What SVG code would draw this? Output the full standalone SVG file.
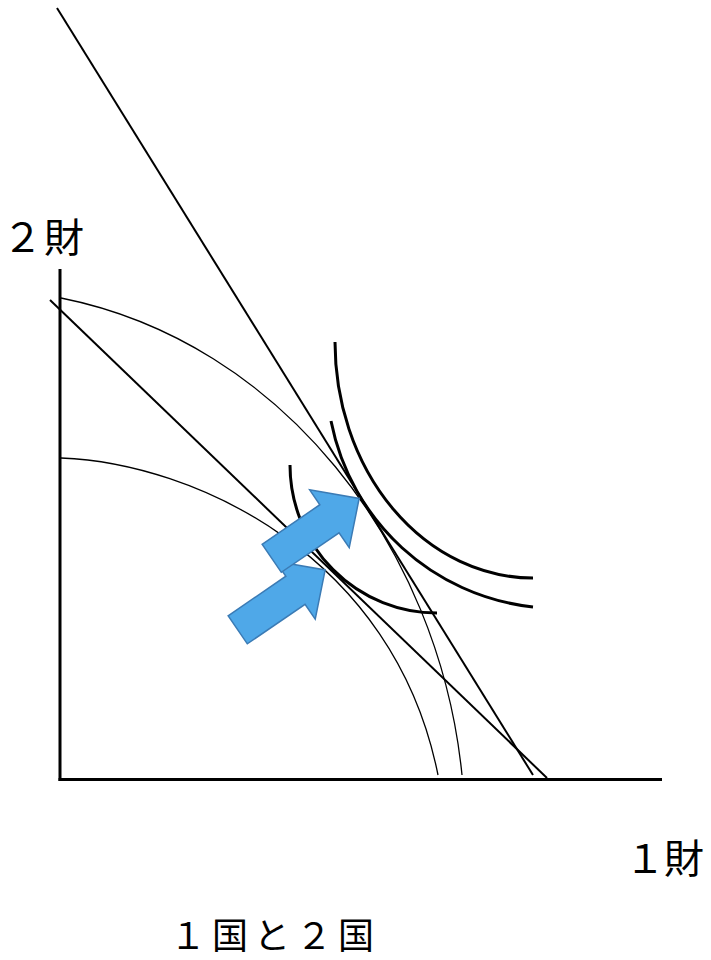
<svg xmlns="http://www.w3.org/2000/svg" width="711" height="960" viewBox="0 0 711 960">
<defs>
<style>
.axis{stroke:#000;stroke-width:3;fill:none}
.line{stroke:#000;stroke-width:2;fill:none}
.ppf{stroke:#000;stroke-width:1.3;fill:none}
.ic{stroke:#000;stroke-width:3;fill:none}
.arrow{fill:#4FA8E8;stroke:#3B7BB5;stroke-width:1.5;stroke-linejoin:miter}
.lbl{font-family:"Noto Sans CJK JP","Noto Sans",sans-serif;fill:#000}
</style>
<polygon id="blk" points="0,-17 70,-17 70,-35 106,0 70,35 70,17 0,17"/>
</defs>
<rect width="711" height="960" fill="#fff"/>
<g id="axes">
<line class="axis" x1="60" y1="269" x2="60" y2="781"/>
<line class="axis" x1="58.5" y1="779.5" x2="662" y2="779.5"/>
</g>
<g id="connectors">
<line class="line" x1="57" y1="8" x2="533" y2="775"/>
<line class="line" x1="50" y1="300" x2="547" y2="778"/>
</g>
<g id="ppf-outer"><path class="ppf" d="M61,298 C281,342 439,545 462,775"/></g>
<g id="ppf-inner"><path class="ppf" d="M61,458 C194,463 394,555 438,775"/></g>
<g id="ic-a"><path class="ic" d="M335,342 A198,236 0 0 0 533,578"/></g>
<g id="ic-b"><path class="ic" d="M331,421 C351,522 433,596 533,607"/></g>
<g id="ic-c"><path class="ic" d="M290,465 A147,148 0 0 0 437,613"/></g>
<g id="arrow-lower"><use href="#blk" class="arrow" transform="translate(237.7,629.8) rotate(-34.4)"/></g>
<g id="arrow-upper"><use href="#blk" class="arrow" transform="translate(271.7,558.3) rotate(-34.4)"/></g>
<g id="label-y"><text class="lbl" font-size="40" x="2.5" y="252" letter-spacing="1.5">２財</text></g>
<g id="label-x"><text class="lbl" font-size="40" x="625" y="873" letter-spacing="-1">１財</text></g>
<g id="title"><text class="lbl" font-size="36" x="170" y="949" letter-spacing="6">１国と２国</text></g>
</svg>
